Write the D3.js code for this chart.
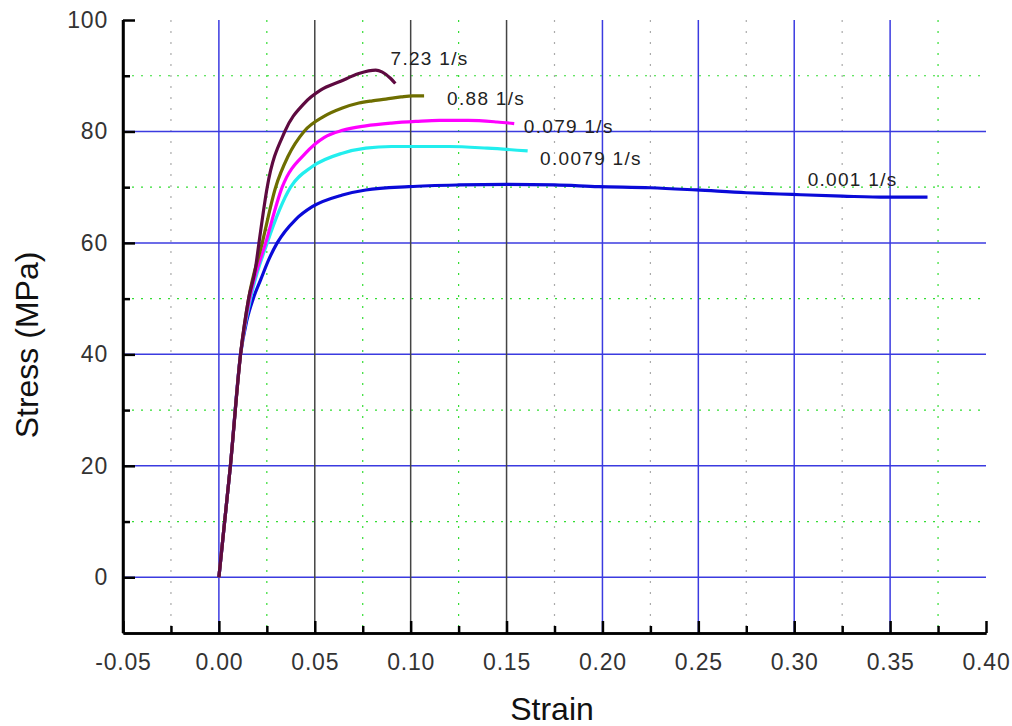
<!DOCTYPE html>
<html><head><meta charset="utf-8">
<script src="https://cdn.jsdelivr.net/npm/d3@7/dist/d3.min.js"></script>
<style>
body{margin:0;background:#fff;}
svg{display:block;font-family:Arial,"Liberation Sans",sans-serif;}
</style></head>
<body><svg id="c" width="1012" height="726"></svg>
<script>
const xTicks = [-0.05,0,0.05,0.10,0.15,0.20,0.25,0.30,0.35,0.40];
const xMinor = [-0.025,0.025,0.075,0.125,0.175,0.225,0.275,0.325,0.375];
const yTicks = [0,20,40,60,80,100];
const yMinor = [10,30,50,70,90];
const seriesNames = ["7.23 1/s","0.88 1/s","0.079 1/s","0.0079 1/s","0.001 1/s"];
const s723 = [[0,0],[0.006,20],[0.0113,40],[0.0155,50],[0.0191,55.5],[0.0209,60],[0.0252,70],[0.0344,80],[0.0444,85],[0.053,87.4],[0.0635,89.0],[0.073,90.4],[0.0818,91.0],[0.085,90.7],[0.0896,89.5],[0.092,88.6]];
const s088 = [[0,0],[0.006,20],[0.0113,40],[0.0155,50],[0.0226,60],[0.0296,70],[0.036,75.5],[0.0444,80],[0.0548,82.7],[0.0644,84.2],[0.073,85.1],[0.080,85.5],[0.087,85.8],[0.095,86.2],[0.101,86.4],[0.107,86.4]];
const s079 = [[0,0],[0.006,20],[0.0113,40],[0.016,50],[0.0244,60],[0.033,70],[0.0452,76.1],[0.0548,78.9],[0.0644,80.2],[0.0766,81.0],[0.09,81.5],[0.1027,81.8],[0.115,82.0],[0.13,82.0],[0.145,81.7],[0.154,81.4]];
const s0079 = [[0,0],[0.006,20],[0.0113,40],[0.0165,50],[0.0252,60],[0.0374,70],[0.0487,73.7],[0.0644,76.1],[0.0766,77.0],[0.09,77.3],[0.1027,77.3],[0.12,77.3],[0.14,77.0],[0.161,76.5]];
const s001 = [[0,0],[0.006,20],[0.0113,40],[0.0145,46],[0.0179,50],[0.0218,53.4],[0.026,57],[0.0304,60],[0.040,64.2],[0.0487,66.5],[0.0644,68.6],[0.0766,69.5],[0.099,70.1],[0.125,70.4],[0.15,70.5],[0.175,70.4],[0.198,70.1],[0.225,69.9],[0.249,69.5],[0.275,69.0],[0.299,68.7],[0.325,68.4],[0.348,68.2],[0.3695,68.2]];
const seriesData = [s723,s088,s079,s0079,s001];
const labelAnchors = [[0.0895,91.9],[0.119,84.8],[0.159,79.7],[0.1675,74.0],[0.307,70.3]];

const colors = ["#5e0a40","#6e6e00","#ff00ff","#22eeee","#0a0ad8"];
const W=1012,H=726, m={l:123,r:26,t:20,b:93};
const svg=d3.select("#c");
const x=d3.scaleLinear().domain([-0.05,0.40]).range([m.l,W-m.r]);
const y=d3.scaleLinear().domain([-10,100]).range([H-m.b,m.t]);

// minor grid
svg.append("g").selectAll("line").data(yMinor).join("line")
  .attr("x1",x(-0.05)).attr("x2",x(0.40)).attr("y1",d=>y(d)).attr("y2",d=>y(d))
  .attr("stroke","#33dd33").attr("stroke-width",1.2).attr("stroke-dasharray","2,7");
const greenV=[0.025,0.075,0.125,0.375];
svg.append("g").selectAll("line").data(xMinor).join("line")
  .attr("x1",d=>x(d)).attr("x2",d=>x(d)).attr("y1",y(100)).attr("y2",y(-10))
  .attr("stroke",d=>greenV.some(v=>Math.abs(v-d)<1e-9)?"#33dd33":"#aaaaaa")
  .attr("stroke-width",1.2).attr("stroke-dasharray","2,9");
// major grid
svg.append("g").selectAll("line").data(yTicks.filter(d=>d<100)).join("line")
  .attr("x1",x(-0.05)).attr("x2",x(0.40)).attr("y1",d=>y(d)).attr("y2",d=>y(d))
  .attr("stroke","#3b3be0").attr("stroke-width",1.5);
const grayV=[0.05,0.10,0.15];
svg.append("g").selectAll("line").data(xTicks.filter(d=>d>-0.01&&d<0.39)).join("line")
  .attr("x1",d=>x(d)).attr("x2",d=>x(d)).attr("y1",y(100)).attr("y2",y(-10))
  .attr("stroke",d=>grayV.some(v=>Math.abs(v-d)<1e-9)?"#444":"#3b3be0").attr("stroke-width",1.5);

// curves (slowest rate drawn first so the fastest sits on top)
const line=d3.line().x(d=>x(d[0])).y(d=>y(d[1])).curve(d3.curveMonotoneX);
seriesData.map((s,i)=>i).reverse().forEach(i=>{
  svg.append("path").datum(seriesData[i]).attr("d",line).attr("fill","none")
    .attr("stroke",colors[i]).attr("stroke-width",3.2).attr("stroke-linejoin","round");
});
// labels
svg.append("g").selectAll("text").data(seriesNames).join("text")
  .attr("x",(d,i)=>x(labelAnchors[i][0])).attr("y",(d,i)=>y(labelAnchors[i][1]))
  .attr("font-size",19).attr("letter-spacing",1.3).attr("fill","#222").text(d=>d);

// axes
const fmt=d=>d3.format(".2f")(d).replace("−","-");
const xa=svg.append("g").attr("transform",`translate(0,${y(-10)})`)
  .call(d3.axisBottom(x).tickValues(xTicks).tickFormat(fmt).tickSizeInner(-12).tickSizeOuter(0).tickPadding(21));
const xm=svg.append("g").attr("transform",`translate(0,${y(-10)})`)
  .call(d3.axisBottom(x).tickValues(xMinor).tickFormat("").tickSizeInner(-7).tickSizeOuter(0));
const ya=svg.append("g").attr("transform",`translate(${x(-0.05)},0)`)
  .call(d3.axisLeft(y).tickValues(yTicks).tickSizeInner(-12).tickSizeOuter(0).tickPadding(15));
const ym=svg.append("g").attr("transform",`translate(${x(-0.05)},0)`)
  .call(d3.axisLeft(y).tickValues(yMinor).tickFormat("").tickSizeInner(-7).tickSizeOuter(0));
[xa,xm,ya,ym].forEach(g=>{
  g.select(".domain").attr("stroke","#000").attr("stroke-width",2.5);
  g.selectAll(".tick line").attr("stroke","#000").attr("stroke-width",2.5);
  g.selectAll("text").attr("font-size",23).attr("letter-spacing",0.8).attr("fill","#333").attr("font-family","Arial,'Liberation Sans',sans-serif");
});
ya.select(".domain").attr("d",`M0,${y(100)}V${y(-10)}`);

svg.append("text").attr("x",552).attr("y",720).attr("text-anchor","middle")
  .attr("font-size",32).attr("fill","#111").text("Strain");
svg.append("text").attr("transform",`translate(38,345) rotate(-90)`).attr("text-anchor","middle")
  .attr("font-size",32).attr("fill","#111").text("Stress (MPa)");
</script></body></html>
